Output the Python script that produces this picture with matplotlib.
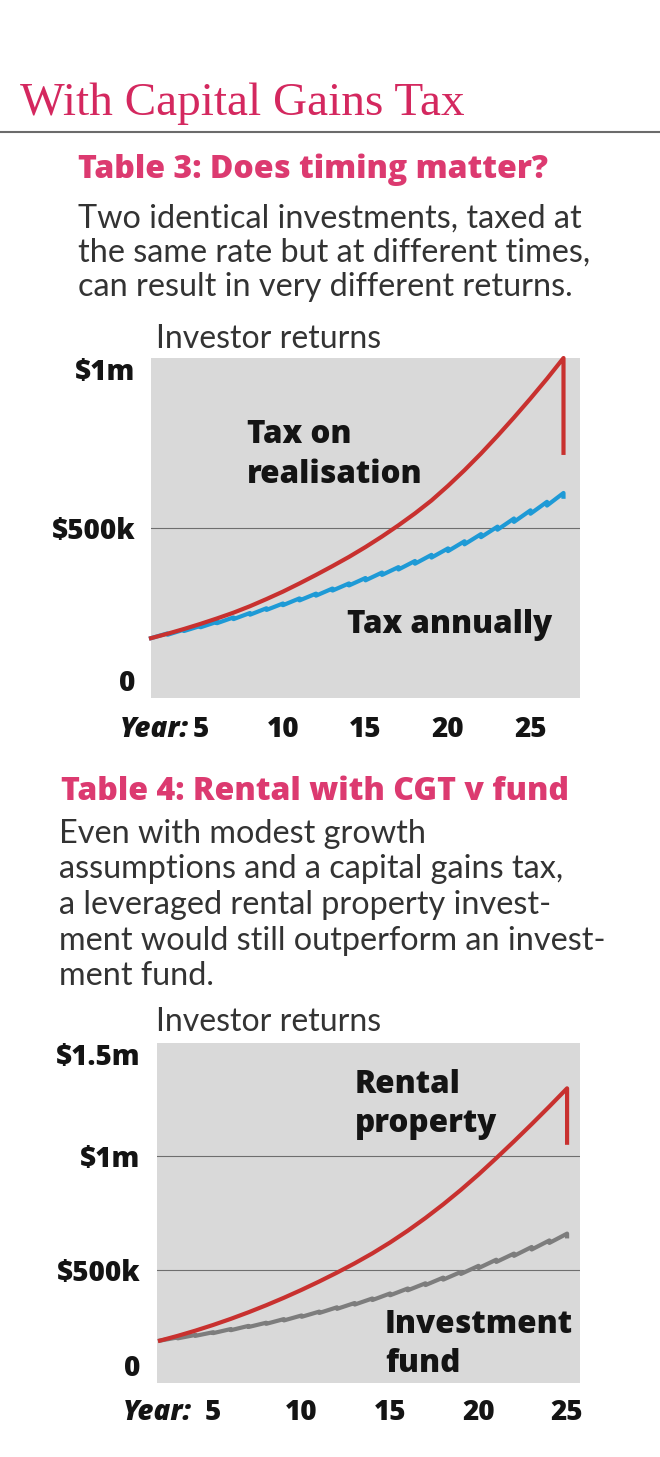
import matplotlib
matplotlib.use('Agg')
import matplotlib.pyplot as plt
from matplotlib.lines import Line2D

# Table 3: years 2..27
years1 = list(range(2, 28))
realisation = [0.176, 0.189, 0.203, 0.218, 0.234, 0.251, 0.270, 0.291, 0.313, 0.337,
               0.362, 0.388, 0.415, 0.444, 0.475, 0.508, 0.543, 0.581, 0.624, 0.670,
               0.719, 0.771, 0.825, 0.881, 0.939, 1.000]
realisation_after_tax = 0.721
annual = [0.176, 0.186, 0.197, 0.208, 0.220, 0.232, 0.245, 0.259, 0.273, 0.287,
          0.301, 0.316, 0.331, 0.346, 0.362, 0.378, 0.395, 0.413, 0.432, 0.452,
          0.473, 0.495, 0.518, 0.542, 0.566, 0.592]
annual_tax = [0, 0.004, 0.004, 0.004, 0.004, 0.005, 0.005, 0.005, 0.005, 0.006,
              0.006, 0.006, 0.006, 0.007, 0.007, 0.007, 0.008, 0.008, 0.008, 0.009,
              0.009, 0.009, 0.010, 0.010, 0.011, 0.011]

# Table 4: years 2..25
years2 = list(range(2, 26))
rental = [0.187, 0.208, 0.231, 0.256, 0.283, 0.312, 0.343, 0.376, 0.411, 0.448,
          0.487, 0.528, 0.572, 0.620, 0.672, 0.728, 0.788, 0.852, 0.920, 0.992,
          1.066, 1.142, 1.220, 1.300]
rental_after_tax = 1.06
fund = [0.187, 0.197, 0.208, 0.220, 0.233, 0.247, 0.261, 0.276, 0.292, 0.309,
        0.327, 0.346, 0.366, 0.387, 0.409, 0.432, 0.456, 0.481, 0.507, 0.534,
        0.561, 0.589, 0.618, 0.647]
fund_tax = [0, 0.004, 0.004, 0.004, 0.005, 0.005, 0.005, 0.006, 0.006, 0.006,
            0.007, 0.007, 0.007, 0.008, 0.008, 0.008, 0.009, 0.009, 0.010, 0.010,
            0.010, 0.011, 0.011, 0.012]

tick_years = [5, 10, 15, 20, 25]
yticks1 = [0, 0.5, 1.0]
ylabels1 = ['0', '$500k', '$1m']
yticks2 = [0, 0.5, 1.0, 1.5]
ylabels2 = ['0', '$500k', '$1m', '$1.5m']

PINK_TITLE = '#d4285f'
PINK = '#dc3a70'
RED = '#c8312f'
BLUE = '#1e9ad6'
GREY = '#7d7d7d'
BG = '#d9d9d9'
GRID = '#6e6e6e'
TXT = '#141414'

BOLD = ['Open Sans', 'Roboto', 'DejaVu Sans']
HEAVY = 'heavy'
LIGHT = ['Lato', 'DejaVu Sans']
LW = 'normal'

W, H = 660, 1457
fig = plt.figure(figsize=(W / 100, H / 100), dpi=100)


def fx(px):
    return px / W


def fy(px):
    return 1 - px / H


def sawtooth(years, post, tax):
    xs, ys = [years[0]], [post[0]]
    for i in range(1, len(years)):
        xs += [years[i], years[i]]
        ys += [post[i] + tax[i], post[i]]
    return xs, ys


def text(x, y, s, size, color=TXT, family=BOLD, weight=HEAVY, **kw):
    fig.text(fx(x), fy(y), s, fontsize=size, color=color, family=family,
             fontweight=weight, va='baseline', ha='left', **kw)


# header
text(20, 115, 'With Capital Gains Tax', 34, color=PINK_TITLE,
     family=['Liberation Serif', 'DejaVu Serif'], weight='normal')
fig.add_artist(Line2D([0, 1], [fy(132), fy(132)], color='#6b6b6b', lw=1.5))

text(78, 178, 'Table 3: Does timing matter?', 23, color=PINK)
for i, line in enumerate(['Two identical investments, taxed at',
                          'the same rate but at different times,',
                          'can result in very different returns.']):
    text(78, 228 + 34 * i, line, 23.3, color='#333333', family=LIGHT, weight=LW)
text(156, 348, 'Investor returns', 23, color='#333333', family=LIGHT, weight=LW)

text(61, 800, 'Table 4: Rental with CGT v fund', 23, color=PINK)
for i, line in enumerate(['Even with modest growth',
                          'assumptions and a capital gains tax,',
                          'a leveraged rental property invest-',
                          'ment would still outperform an invest-',
                          'ment fund.']):
    text(59, 843 + 35.5 * i, line, 23.3, color='#333333', family=LIGHT, weight=LW)
text(156, 1031, 'Investor returns', 23, color='#333333', family=LIGHT, weight=LW)


def style_axes(ax, yticks, ylabels, ypad, xpad, year_off):
    ax.set_facecolor(BG)
    for s in ax.spines.values():
        s.set_visible(False)
    for v in yticks[1:]:
        if v < ax.get_ylim()[1]:
            ax.axhline(v, color=GRID, lw=0.8, zorder=1)
    ax.set_yticks(yticks, ylabels)
    ax.set_xticks(tick_years, [str(t) for t in tick_years])
    ax.tick_params(length=0, labelsize=20, colors=TXT)
    ax.tick_params(axis='y', pad=ypad)
    ax.tick_params(axis='x', pad=xpad)
    for lab in ax.get_xticklabels() + ax.get_yticklabels():
        lab.set_family(BOLD)
        lab.set_fontweight(HEAVY)
    ylabs = ax.get_yticklabels()
    ylabs[0].set_va('bottom')
    ylabs[-1].set_va('top')
    ax.annotate('Year:', xy=(5, 0), xycoords=('data', 'axes fraction'),
                xytext=(year_off, -xpad / 0.72), textcoords='offset pixels',
                ha='right', va='top', fontsize=20, fontweight=HEAVY,
                fontstyle='italic', family=BOLD, color=TXT)


# chart 1
ax1 = fig.add_axes([fx(151), fy(698), fx(580) - fx(151), fy(358) - fy(698)])
ax1.set_xlim(2, 28)
ax1.set_ylim(0, 1.0)
ax1.plot(years1 + [years1[-1]], realisation + [realisation_after_tax],
         color=RED, lw=3, clip_on=False, zorder=3)
bx, by = sawtooth(years1, annual, annual_tax)
ax1.plot(bx, by, color=BLUE, lw=3, clip_on=False, zorder=2)
style_axes(ax1, yticks1, ylabels1, 11.5, 12, -12)

text(247, 443, 'Tax on', 22.6)
text(247, 483, 'realisation', 22.6)
text(347, 633, 'Tax annually', 22.6)

# chart 2
ax2 = fig.add_axes([fx(157), fy(1383), fx(580) - fx(157), fy(1043) - fy(1383)])
ax2.set_xlim(1.83, 25.73)
ax2.set_ylim(0, 1.5)
ax2.plot(years2 + [years2[-1]], rental + [rental_after_tax],
         color=RED, lw=3, clip_on=False, zorder=3)
gx, gy = sawtooth(years2, fund, fund_tax)
ax2.plot(gx, gy, color=GREY, lw=3, clip_on=False, zorder=2)
style_axes(ax2, yticks2, ylabels2, 12, 11, -21)

text(355, 1093, 'Rental', 22.6)
text(355, 1132, 'property', 22.6)
text(385, 1333, 'Investment', 22.6)
text(385, 1372, 'fund', 22.6)

fig.savefig('out.png', dpi=100, facecolor='white')
